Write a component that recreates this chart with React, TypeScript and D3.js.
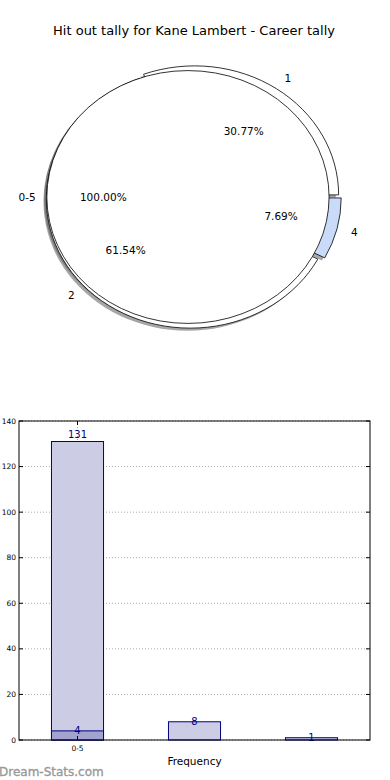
import React from "react";
import * as d3 from "d3";

const title = "Hit out tally for Kane Lambert - Career tally";

// outer ring of the pie
const ringLabels = ["1", "2", "4"];
const ringValues = [4, 8, 1];
const ringFills = ["#ffffff", "#ffffff", "#c9dbf8"];
const ringExplode = [0.02, 0.025, 0.03];

// inner disc
const coreLabels = ["0-5"];
const coreValues = [1];
const coreFills = ["#ffffff"];
const coreExplode = [0.035];

// bar chart
const barCats = ["0-5", "", ""];
const barValues = [131, 8, 1];
const overlayValues = [4];
const yTicks = [0, 20, 40, 60, 80, 100, 120, 140];

const W = 390;
const H = 780;
const font = "'DejaVu Sans', sans-serif";

// pie is drawn in an ellipse: unit radius -> (kx, ky) px
const pcx = 193;
const pcy = 197;
const kx = 144;
const ky = 129;

type Wedge = {
  label: string;
  value: number;
  fill: string;
  a0: number;
  a1: number;
  ox: number;
  oy: number;
  r: number;
  pct: number;
};

function layout(labels: string[], values: number[], fills: string[], explode: number[], r: number): Wedge[] {
  const total = d3.sum(values);
  // matplotlib style: start at 3 o'clock, counterclockwise
  const arcs = d3.pie<number>().sort(null).startAngle(0).endAngle(2 * Math.PI)(values);
  return arcs.map((a, i) => {
    const mid = (a.startAngle + a.endAngle) / 2;
    return {
      label: labels[i],
      value: values[i],
      fill: fills[i],
      a0: a.startAngle,
      a1: a.endAngle,
      ox: explode[i] * Math.cos(mid),
      oy: explode[i] * Math.sin(mid),
      r,
      pct: (values[i] / total) * 100,
    };
  });
}

const ring = layout(ringLabels, ringValues, ringFills, ringExplode, 1);
const core = layout(coreLabels, coreValues, coreFills, coreExplode, 0.98);

const px = (x: number) => pcx + x * kx;
const py = (y: number) => pcy - y * ky;

// wedge path in screen coords (ellipse), angles math-style
function wedgePath(w: Wedge, dx = 0, dy = 0) {
  const cx = px(w.ox) + dx;
  const cy = py(w.oy) + dy;
  const span = w.a1 - w.a0;
  const full = span >= 2 * Math.PI - 1e-6;
  const rx = w.r * kx;
  const ry = w.r * ky;
  if (full) {
    return `M${cx + rx},${cy}A${rx},${ry} 0 1 0 ${cx - rx},${cy}A${rx},${ry} 0 1 0 ${cx + rx},${cy}Z`;
  }
  const x0 = cx + rx * Math.cos(w.a0);
  const y0 = cy - ry * Math.sin(w.a0);
  const x1 = cx + rx * Math.cos(w.a1);
  const y1 = cy - ry * Math.sin(w.a1);
  const large = span > Math.PI ? 1 : 0;
  return `M${cx},${cy}L${x0},${y0}A${rx},${ry} 0 ${large} 0 ${x1},${y1}Z`;
}

const fmtPct = d3.format(".2f");

function PieLabels({ w }: { w: Wedge }) {
  const mid = (w.a0 + w.a1) / 2;
  const c = Math.cos(mid);
  const s = Math.sin(mid);
  const left = c < 0;
  const lx = px(w.ox + 1.1 * w.r * c) + (left ? 3 : 0);
  const ly = py(w.oy + 1.1 * w.r * s) + (s < -0.3 ? 1.5 : 0);
  const tx = px(w.ox + 0.6 * w.r * c);
  const ty = py(w.oy + 0.6 * w.r * s);
  return (
    <g fontFamily={font} fontSize={10.5} fill="#000">
      <text x={lx} y={ly} textAnchor={left ? "end" : "start"} dominantBaseline="central">
        {w.label}
      </text>
      <text x={tx} y={ty} textAnchor="middle" dominantBaseline="central">
        {fmtPct(w.pct)}%
      </text>
    </g>
  );
}

// bar chart axes box
const bx0 = 19;
const bx1 = 370;
const by0 = 421;
const by1 = 740;

const x = d3.scalePoint<number>().domain(barValues.map((_, i) => i)).range([bx0, bx1]).padding(0.5);
const y = d3.scaleLinear().domain([0, 140]).range([by1, by0]);
const barW = x.step() * 0.445;
const navy = "#000080";
const maxVal = d3.max(barValues) as number;

export default function App() {
  return (
    <svg width={W} height={H} style={{ position: "absolute", left: 0, top: 0, background: "#fff" }}>
      <text x={194} y={35} textAnchor="middle" fontFamily={font} fontSize={13} fill="#000">
        {title}
      </text>

      {/* shadows first, then wedges */}
      {[...ring, ...core].map((w, i) => (
        <path key={"s" + i} d={wedgePath(w, -2.8, 2.6)} fill="#4d4d4d" opacity={0.5} stroke="none" />
      ))}
      {ring.map((w, i) => (
        <path key={"r" + i} d={wedgePath(w)} fill={w.fill} stroke="#000" strokeWidth={0.8} strokeLinejoin="round" />
      ))}
      {core.map((w, i) => (
        <path key={"c" + i} d={wedgePath(w)} fill={w.fill} stroke="#000" strokeWidth={0.8} />
      ))}
      {ring.map((w, i) => (
        <PieLabels key={"rl" + i} w={w} />
      ))}
      {core.map((w, i) => (
        <PieLabels key={"cl" + i} w={w} />
      ))}

      {/* bar chart */}
      <g>
        {yTicks.map((t) => (
          <line key={"g" + t} x1={bx0} x2={bx1} y1={y(t)} y2={y(t)} stroke="#aaaaaa" strokeDasharray="1,2" />
        ))}
        {barCats.map((c, i) =>
          c ? (
            <line key={"vg" + i} x1={x(i)} x2={x(i)} y1={by0} y2={by1} stroke="#999999" strokeDasharray="1,2" />
          ) : null
        )}
        {barValues.map((v, i) => (
          <rect
            key={"b" + i}
            x={(x(i) as number) - barW / 2}
            y={y(v)}
            width={barW}
            height={by1 - y(v)}
            fill="#ccccE4"
            stroke={navy}
            strokeWidth={1}
          />
        ))}
        {overlayValues.map((v, i) => (
          <rect
            key={"o" + i}
            x={(x(i) as number) - barW / 2}
            y={y(v)}
            width={barW}
            height={by1 - y(v)}
            fill="#a3a3cf"
            stroke={navy}
            strokeWidth={1}
          />
        ))}
        {barValues.map((v, i) => (
          <text
            key={"bl" + i}
            x={x(i)}
            y={v === maxVal ? y(v) - 3.5 : y(v) + 3.5}
            textAnchor="middle"
            fontFamily={font}
            fontSize={10}
            fill={navy}
          >
            {v}
          </text>
        ))}
        {overlayValues.map((v, i) => (
          <text key={"ol" + i} x={x(i)} y={y(v) + 3.5} textAnchor="middle" fontFamily={font} fontSize={10} fill={navy}>
            {v}
          </text>
        ))}

        <rect x={bx0} y={by0} width={bx1 - bx0} height={by1 - by0} fill="none" stroke="#000" strokeWidth={1} />

        {yTicks.map((t) => (
          <g key={"t" + t}>
            <line x1={bx0} x2={bx0 + 4} y1={y(t)} y2={y(t)} stroke="#000" />
            <line x1={bx1 - 4} x2={bx1} y1={y(t)} y2={y(t)} stroke="#000" />
            <text x={bx0 - 3} y={y(t)} textAnchor="end" dominantBaseline="central" fontFamily={font} fontSize={7.5} fill="#000">
              {t}
            </text>
          </g>
        ))}
        {barCats.map((c, i) =>
          c ? (
            <g key={"xt" + i}>
              <line x1={x(i)} x2={x(i)} y1={by1} y2={by1 - 4} stroke="#000" />
              <line x1={x(i)} x2={x(i)} y1={by0} y2={by0 + 4} stroke="#000" />
              <text x={x(i)} y={by1 + 11} textAnchor="middle" fontFamily={font} fontSize={7.5} fill="#000">
                {c}
              </text>
            </g>
          ) : null
        )}
        <text x={(bx0 + bx1) / 2} y={765} textAnchor="middle" fontFamily={font} fontSize={10.5} fill="#000">
          Frequency
        </text>
      </g>

      <text x={-1} y={776} fontFamily={font} fontSize={12} fill="#999" stroke="#999" strokeWidth={0.35}>
        Dream-Stats.com
      </text>
    </svg>
  );
}
